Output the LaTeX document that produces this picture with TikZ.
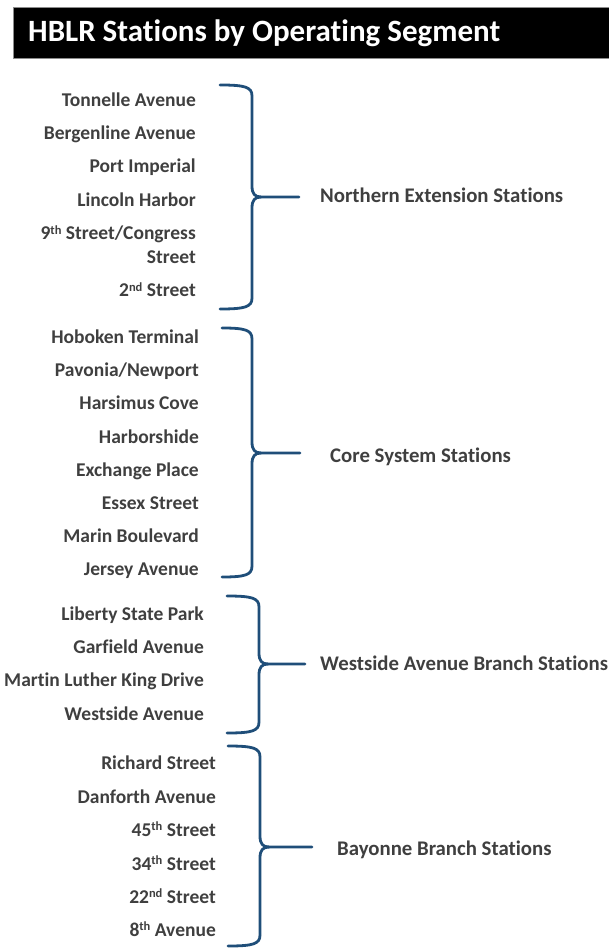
\documentclass[tikz,border=0pt]{standalone}
\usepackage{fontspec}
\setmainfont{Carlito}[Ligatures=NoCommon]
\definecolor{txt}{HTML}{3F3F3F}
\definecolor{brc}{HTML}{1F4E79}
\newcommand\mysup[1]{\raisebox{5.5pt}{\fontsize{12.5}{12.5}\selectfont #1}}
\tikzset{
  stn/.style={anchor=base east, inner sep=0pt, text=txt, font=\fontsize{19.5}{20}\selectfont\bfseries},
  grp/.style={anchor=base west, inner sep=0pt, text=txt, font=\fontsize{20.8}{21}\selectfont\bfseries},
  titlebox/.style={fill=black, draw=black!45, line width=0.8pt},
  titletext/.style={anchor=base west, inner sep=0pt, text=white, font=\fontsize{31}{31}\selectfont\bfseries},
  braceline/.style={draw=brc, line width=2.8pt, line join=round, line cap=round},
}
% #1 hook x, #2 spine x, #3 top y, #4 tip y, #5 bottom y, #6 name of tip-end coordinate
\newcommand\mybrace[6]{%
  \draw[braceline] (#1,#3) .. controls ({#2-7},#3) and (#2,{#3+2}) .. (#2,{#3+11})
    -- (#2,{#4-11}) .. controls (#2,{#4-3}) and ({#2+3},#4) .. ({#2+9},#4) -- (#6);
  \draw[braceline] ({#2+9},#4) .. controls ({#2+3},#4) and (#2,{#4+3}) .. (#2,{#4+11})
    -- (#2,{#5-11}) .. controls (#2,{#5-2}) and ({#2-7},#5) .. (#1,#5);
}
\begin{document}
\begin{tikzpicture}[x=1pt,y=-1pt]
\useasboundingbox (0,0) rectangle (608,949);
% title
\path[titlebox] (13,7) rectangle (612,58);
\node[titletext] (title) at (28,42) {HBLR Stations by Operating Segment};

% Northern Extension
\node[stn] (s1) at (196,106.7) {Tonnelle Avenue};
\node[stn] (s2) at (196,140) {Bergenline Avenue};
\node[stn] (s3) at (196,173) {Port Imperial};
\node[stn] (s4) at (196,206.7) {Lincoln Harbor};
\node[stn] (s5) at (196,240) {9\mysup{th} Street/Congress};
\node[stn] (s5b) at (196,264) {Street};
\node[stn] (s6) at (196,296.7) {2\mysup{nd} Street};
\node[grp] (g1) at (320,203) {Northern Extension Stations};
\coordinate (t1) at (299,197);
\mybrace{220}{252}{85}{197}{309}{t1}

% Core System
\node[stn] (c1) at (199,343) {Hoboken Terminal};
\node[stn] (c2) at (199,376) {Pavonia/Newport};
\node[stn] (c3) at (199,409) {Harsimus Cove};
\node[stn] (c4) at (199,443) {Harborshide};
\node[stn] (c5) at (199,476) {Exchange Place};
\node[stn] (c6) at (199,509) {Essex Street};
\node[stn] (c7) at (199,542) {Marin Boulevard};
\node[stn] (c8) at (199,575) {Jersey Avenue};
\node[grp] (g2) at (330,462) {Core System Stations};
\coordinate (t2) at (300,453);
\mybrace{222}{252}{328}{453}{577}{t2}

% Westside Avenue Branch
\node[stn] (w1) at (204,620) {Liberty State Park};
\node[stn] (w2) at (204,653) {Garfield Avenue};
\node[stn] (w3) at (204,686) {Martin Luther King Drive};
\node[stn] (w4) at (204,720) {Westside Avenue};
\node[grp] (g3) at (320,670) {Westside Avenue Branch Stations};
\coordinate (t3) at (305,664);
\mybrace{227}{259}{596}{664}{733}{t3}

% Bayonne Branch
\node[stn] (b1) at (216,769) {Richard Street};
\node[stn] (b2) at (216,803) {Danforth Avenue};
\node[stn] (b3) at (216,836) {45\mysup{th} Street};
\node[stn] (b4) at (216,870) {34\mysup{th} Street};
\node[stn] (b5) at (216,903) {22\mysup{nd} Street};
\node[stn] (b6) at (216,936) {8\mysup{th} Avenue};
\node[grp] (g4) at (337,855) {Bayonne Branch Stations};
\coordinate (t4) at (312,847);
\mybrace{228}{260}{746}{847}{946}{t4}
\end{tikzpicture}
\end{document}
